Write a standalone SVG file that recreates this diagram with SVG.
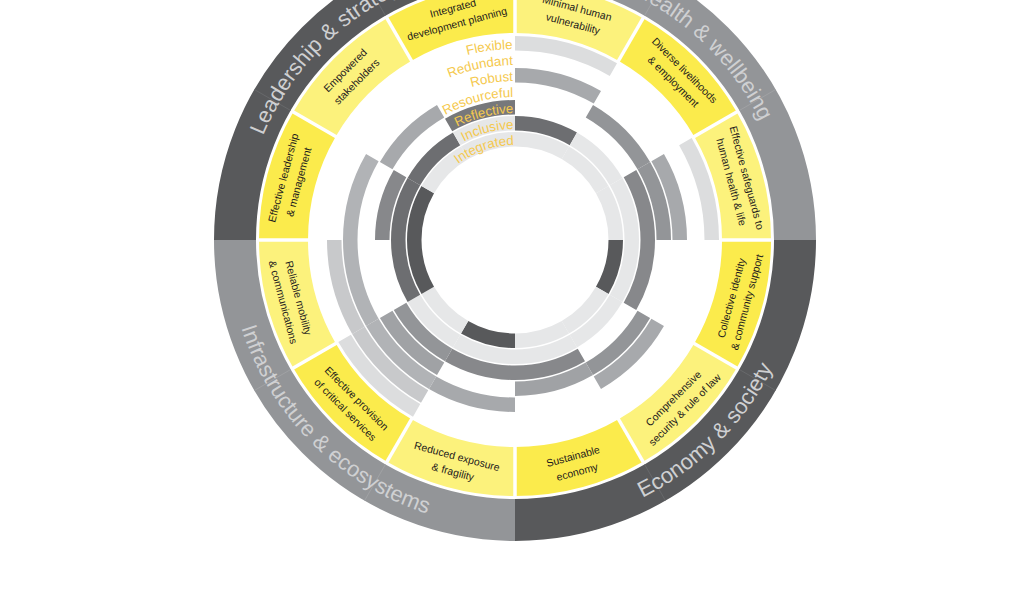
<svg xmlns="http://www.w3.org/2000/svg" width="1020" height="600" viewBox="0 0 1020 600">
<style>
.cell{fill:none;stroke-width:14.5}
.k0{stroke-dasharray:103.02,2000}
.k1{stroke-dasharray:94.64,2000}
.k2{stroke-dasharray:86.27,2000}
.k3{stroke-dasharray:77.88,2000}
.k4{stroke-dasharray:69.51,2000}
.k5{stroke-dasharray:61.13,2000}
.k6{stroke-dasharray:52.75,2000}
.L1{stroke:#e6e7e8}.L2{stroke:#dcddde}.L3{stroke:#c8c9cb}
.M0{stroke:#b1b3b6}.M1{stroke:#a7a9ac}.M1b{stroke:#a0a2a5}.M2{stroke:#939598}.M3{stroke:#87888b}
.D0{stroke:#77787b}.D1{stroke:#6d6e71}.D2{stroke:#58595b}
.yl{fill:none;stroke-width:49;stroke-dasharray:121.21,2000}
.yA{stroke:#fbeb4c}.yB{stroke:#fcf27c}
.out{fill:none;stroke-width:42;stroke-dasharray:439.82,2000}
.dk{stroke:#58595b}.md{stroke:#939598}
.sep{stroke:#ffffff;stroke-width:3.5}
.fl{stroke-width:0.8;fill:none}
.seg{font-family:"Liberation Sans",Arial,sans-serif;font-size:10.5px;fill:#1e1b1c;text-anchor:middle}
.q{font-family:"Liberation Sans",Arial,sans-serif;font-size:22px;fill:#cfd0d2;text-anchor:middle}
.lab{font-family:"Liberation Sans",Arial,sans-serif;font-size:13.3px;fill:#f5c94e;text-anchor:end}
</style>
<defs>
<path id="pL" d="M -272.5 0 A 272.5 272.5 0 0 1 0 -272.5"/>
<path id="pH" d="M 0 -272.5 A 272.5 272.5 0 0 1 272.5 0"/>
<path id="pE" d="M 0 287.5 A 287.5 287.5 0 0 0 287.5 0"/>
<path id="pI" d="M -287.5 0 A 287.5 287.5 0 0 0 0 287.5"/>
<path id="t0" d="M -191 0 A 191 191 0 0 1 0 -191"/>
<path id="t1" d="M -175 0 A 175 175 0 0 1 0 -175"/>
<path id="t2" d="M -159 0 A 159 159 0 0 1 0 -159"/>
<path id="t3" d="M -143 0 A 143 143 0 0 1 0 -143"/>
<path id="t4" d="M -127 0 A 127 127 0 0 1 0 -127"/>
<path id="t5" d="M -111 0 A 111 111 0 0 1 0 -111"/>
<path id="t6" d="M -95 0 A 95 95 0 0 1 0 -95"/>
</defs>
<rect width="1020" height="600" fill="#ffffff"/>
<g transform="translate(515 240)">
<g id="outer-ring">
<g id="cat-health-wellbeing">
<circle class="out md" r="280" transform="rotate(-90)"/>
<line class="fl" stroke="#a3a4a7" x1="129.5" y1="-224.3" x2="150.5" y2="-260.7"/>
<line class="fl" stroke="#a3a4a7" x1="224.3" y1="-129.5" x2="260.7" y2="-150.5"/>
<text class="q"><textPath href="#pH" startOffset="50%">Health &amp; wellbeing</textPath></text>
</g>
<g id="cat-economy-society">
<circle class="out dk" r="280" transform="rotate(0)"/>
<line class="fl" stroke="#6b6c6e" x1="224.3" y1="129.5" x2="260.7" y2="150.5"/>
<line class="fl" stroke="#6b6c6e" x1="129.5" y1="224.3" x2="150.5" y2="260.7"/>
<text class="q"><textPath href="#pE" startOffset="50%">Economy &amp; society</textPath></text>
</g>
<g id="cat-infrastructure-ecosystems">
<circle class="out md" r="280" transform="rotate(90)"/>
<line class="fl" stroke="#a3a4a7" x1="-129.5" y1="224.3" x2="-150.5" y2="260.7"/>
<line class="fl" stroke="#a3a4a7" x1="-224.3" y1="129.5" x2="-260.7" y2="150.5"/>
<text class="q"><textPath href="#pI" startOffset="50%">Infrastructure &amp; ecosystems</textPath></text>
</g>
<g id="cat-leadership-strategy">
<circle class="out dk" r="280" transform="rotate(180)"/>
<line class="fl" stroke="#6b6c6e" x1="-224.3" y1="-129.5" x2="-260.7" y2="-150.5"/>
<line class="fl" stroke="#6b6c6e" x1="-129.5" y1="-224.3" x2="-150.5" y2="-260.7"/>
<text class="q"><textPath href="#pL" startOffset="50%">Leadership &amp; strategy</textPath></text>
</g>
</g>
<g id="goals">
<g id="goal-minimal-human-vulnerability"><circle class="yl yB" r="231.5" transform="rotate(-90)"/>
<text class="seg" transform="translate(60.05 -224.1) rotate(15)"><tspan x="0" y="-4.3">Minimal human</tspan><tspan x="0" y="11.7">vulnerability</tspan></text></g>
<g id="goal-diverse-livelihoods"><circle class="yl yA" r="231.5" transform="rotate(-60)"/>
<text class="seg" transform="translate(164.05 -164.05) rotate(45)"><tspan x="0" y="-4.3">Diverse livelihoods</tspan><tspan x="0" y="11.7">&amp; employment</tspan></text></g>
<g id="goal-effective-safeguards"><circle class="yl yB" r="231.5" transform="rotate(-30)"/>
<text class="seg" transform="translate(224.1 -60.05) rotate(75)"><tspan x="0" y="-4.3">Effective safeguards to</tspan><tspan x="0" y="11.7">human health &amp; life</tspan></text></g>
<g id="goal-collective-identity"><circle class="yl yA" r="231.5" transform="rotate(0)"/>
<text class="seg" transform="translate(224.1 60.05) rotate(-75)"><tspan x="0" y="-4.3">Collective identity</tspan><tspan x="0" y="11.7">&amp; community support</tspan></text></g>
<g id="goal-comprehensive-security"><circle class="yl yB" r="231.5" transform="rotate(30)"/>
<text class="seg" transform="translate(164.05 164.05) rotate(-45)"><tspan x="0" y="-4.3">Comprehensive</tspan><tspan x="0" y="11.7">security &amp; rule of law</tspan></text></g>
<g id="goal-sustainable-economy"><circle class="yl yA" r="231.5" transform="rotate(60)"/>
<text class="seg" transform="translate(60.05 224.1) rotate(-15)"><tspan x="0" y="-4.3">Sustainable</tspan><tspan x="0" y="11.7">economy</tspan></text></g>
<g id="goal-reduced-exposure"><circle class="yl yB" r="231.5" transform="rotate(90)"/>
<text class="seg" transform="translate(-60.05 224.1) rotate(15)"><tspan x="0" y="-4.3">Reduced exposure</tspan><tspan x="0" y="11.7">&amp; fragility</tspan></text></g>
<g id="goal-critical-services"><circle class="yl yA" r="231.5" transform="rotate(120)"/>
<text class="seg" transform="translate(-164.05 164.05) rotate(45)"><tspan x="0" y="-4.3">Effective provision</tspan><tspan x="0" y="11.7">of critical services</tspan></text></g>
<g id="goal-reliable-mobility"><circle class="yl yB" r="231.5" transform="rotate(150)"/>
<text class="seg" transform="translate(-224.1 60.05) rotate(75)"><tspan x="0" y="-4.3">Reliable mobility</tspan><tspan x="0" y="11.7">&amp; communications</tspan></text></g>
<g id="goal-effective-leadership"><circle class="yl yA" r="231.5" transform="rotate(180)"/>
<text class="seg" transform="translate(-224.1 -60.05) rotate(-75)"><tspan x="0" y="-4.3">Effective leadership</tspan><tspan x="0" y="11.7">&amp; management</tspan></text></g>
<g id="goal-empowered-stakeholders"><circle class="yl yB" r="231.5" transform="rotate(210)"/>
<text class="seg" transform="translate(-164.05 -164.05) rotate(-45)"><tspan x="0" y="-4.3">Empowered</tspan><tspan x="0" y="11.7">stakeholders</tspan></text></g>
<g id="goal-integrated-planning"><circle class="yl yA" r="231.5" transform="rotate(240)"/>
<text class="seg" transform="translate(-60.05 -224.1) rotate(-15)"><tspan x="0" y="-4.3">Integrated</tspan><tspan x="0" y="11.7">development planning</tspan></text></g>
<g id="goal-separators">
<line class="sep" x1="0" y1="-204" x2="0" y2="-258"/>
<line class="sep" x1="102.5" y1="-177.5" x2="129" y2="-223.4"/>
<line class="sep" x1="177.5" y1="-102.5" x2="223.4" y2="-129"/>
<line class="sep" x1="205" y1="0" x2="258" y2="0"/>
<line class="sep" x1="177.5" y1="102.5" x2="223.4" y2="129"/>
<line class="sep" x1="102.5" y1="177.5" x2="129" y2="223.4"/>
<line class="sep" x1="0" y1="205" x2="0" y2="258"/>
<line class="sep" x1="-102.5" y1="177.5" x2="-129" y2="223.4"/>
<line class="sep" x1="-177.5" y1="102.5" x2="-223.4" y2="129"/>
<line class="sep" x1="-205" y1="0" x2="-258" y2="0"/>
<line class="sep" x1="-177.5" y1="-102.5" x2="-223.4" y2="-129"/>
<line class="sep" x1="-102.5" y1="-177.5" x2="-129" y2="-223.4"/>
</g>
</g>
<g id="qualities">
<g id="q-flexible">
<circle class="cell k0 L2" r="196.75" transform="rotate(-90)"/>
<circle class="cell k0 L2" r="196.75" transform="rotate(-30)"/>
<circle class="cell k0 L2" r="196.75" transform="rotate(120)"/>
<text class="lab"><textPath href="#t0" startOffset="99.2%">Flexible</textPath></text>
</g>
<g id="q-redundant">
<circle class="cell k1 L3" r="180.75" transform="rotate(120)"/>
<circle class="cell k1 L3" r="180.75" transform="rotate(150)"/>
<text class="lab"><textPath href="#t1" startOffset="99.2%">Redundant</textPath></text>
</g>
<g id="q-robust">
<circle class="cell k2 M1" r="164.75" transform="rotate(-90)"/>
<circle class="cell k2 M1" r="164.75" transform="rotate(-30)"/>
<circle class="cell k2 M1" r="164.75" transform="rotate(30)"/>
<circle class="cell k2 M1" r="164.75" transform="rotate(90)"/>
<circle class="cell k2 M0" r="164.75" transform="rotate(120)"/>
<circle class="cell k2 M0" r="164.75" transform="rotate(150)"/>
<circle class="cell k2 M0" r="164.75" transform="rotate(180)"/>
<text class="lab"><textPath href="#t2" startOffset="99.2%">Robust</textPath></text>
</g>
<g id="q-resourceful">
<circle class="cell k3 M2" r="148.75" transform="rotate(-60)"/>
<circle class="cell k3 M2" r="148.75" transform="rotate(-30)"/>
<circle class="cell k3 M2" r="148.75" transform="rotate(30)"/>
<circle class="cell k3 M1b" r="148.75" transform="rotate(60)"/>
<circle class="cell k3 M1b" r="148.75" transform="rotate(120)"/>
<circle class="cell k3 M1" r="148.75" transform="rotate(210)"/>
<text class="lab"><textPath href="#t3" startOffset="99.2%">Resourceful</textPath></text>
</g>
<g id="q-reflective">
<circle class="cell k4 M3" r="132.75" transform="rotate(-30)"/>
<circle class="cell k4 M3" r="132.75" transform="rotate(0)"/>
<circle class="cell k4 M3" r="132.75" transform="rotate(60)"/>
<circle class="cell k4 M3" r="132.75" transform="rotate(90)"/>
<circle class="cell k4 M2" r="132.75" transform="rotate(120)"/>
<circle class="cell k4 M3" r="132.75" transform="rotate(180)"/>
<circle class="cell k4 D0" r="132.75" transform="rotate(240)"/>
<text class="lab"><textPath href="#t4" startOffset="99.2%">Reflective</textPath></text>
</g>
<g id="q-inclusive">
<circle class="cell k5 D1" r="116.75" transform="rotate(-90)"/>
<circle class="cell k5 L1" r="116.75" transform="rotate(-60)"/>
<circle class="cell k5 L1" r="116.75" transform="rotate(-30)"/>
<circle class="cell k5 L1" r="116.75" transform="rotate(0)"/>
<circle class="cell k5 L1" r="116.75" transform="rotate(30)"/>
<circle class="cell k5 L1" r="116.75" transform="rotate(60)"/>
<circle class="cell k5 L1" r="116.75" transform="rotate(90)"/>
<circle class="cell k5 L1" r="116.75" transform="rotate(120)"/>
<circle class="cell k5 D1" r="116.75" transform="rotate(150)"/>
<circle class="cell k5 D1" r="116.75" transform="rotate(180)"/>
<circle class="cell k5 D1" r="116.75" transform="rotate(210)"/>
<circle class="cell k5 L1" r="116.75" transform="rotate(240)"/>
<text class="lab"><textPath href="#t5" startOffset="99.2%">Inclusive</textPath></text>
</g>
<g id="q-integrated">
<circle class="cell k6 L1" r="100.75" transform="rotate(-90)"/>
<circle class="cell k6 L1" r="100.75" transform="rotate(-60)"/>
<circle class="cell k6 L1" r="100.75" transform="rotate(-30)"/>
<circle class="cell k6 D2" r="100.75" transform="rotate(0)"/>
<circle class="cell k6 L1" r="100.75" transform="rotate(30)"/>
<circle class="cell k6 L1" r="100.75" transform="rotate(60)"/>
<circle class="cell k6 D2" r="100.75" transform="rotate(90)"/>
<circle class="cell k6 L1" r="100.75" transform="rotate(120)"/>
<circle class="cell k6 D2" r="100.75" transform="rotate(150)"/>
<circle class="cell k6 D2" r="100.75" transform="rotate(180)"/>
<circle class="cell k6 L1" r="100.75" transform="rotate(210)"/>
<circle class="cell k6 L1" r="100.75" transform="rotate(240)"/>
<text class="lab"><textPath href="#t6" startOffset="99.2%">Integrated</textPath></text>
</g>
</g>
<g id="connectors"></g>
</g>
</svg>
